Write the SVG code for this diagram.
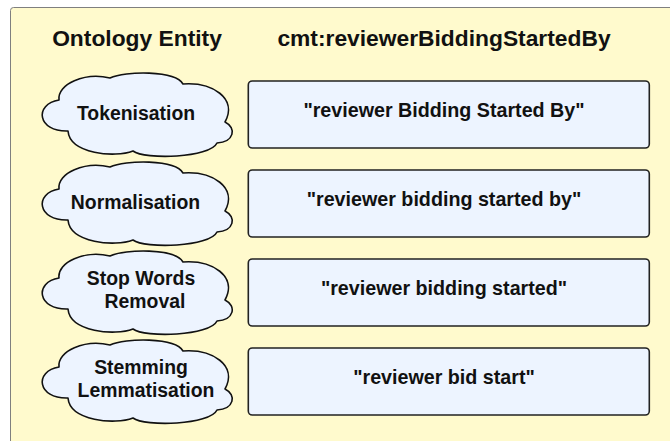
<svg xmlns="http://www.w3.org/2000/svg" width="670" height="441" viewBox="0 0 670 441">
<defs>
<style>
.bg{fill:#fffacd;stroke:#7f7f7f;stroke-width:1}
.box{fill:#edf4ff;stroke:#222;stroke-width:1.6}
.cloud{fill:#edf4ff;stroke:#111;stroke-width:1.6;stroke-linejoin:round}
text{font-family:"Liberation Sans",Arial,sans-serif;font-weight:bold;fill:#111;text-anchor:middle}
.h{font-size:22.8px}
.c{font-size:19.4px}
.b{font-size:19.7px}
</style>
<path id="cl" d="M19,26 C17,10 45,-2 70,4 C85,-3 135,-4 143,10 C172,8 198,24 185,48 C197,54 194,68 177,69 C170,84 105,86 93,77 C75,84 30,80 28,57 C-3,58 -6,30 19,26 Z"/>
</defs>
<rect class="bg" x="10.5" y="7.5" width="680" height="460" rx="3"/>
<g id="headers">
<text class="h" x="137" y="46">Ontology Entity</text>
<text class="h" x="444" y="46">cmt:reviewerBiddingStartedBy</text>
</g>
<g id="cloud1"><use href="#cl" class="cloud" transform="translate(40,74)"/><text class="c" x="136" y="119.5">Tokenisation</text></g>
<g id="cloud2"><use href="#cl" class="cloud" transform="translate(40,163)"/><text class="c" x="135.5" y="208.5">Normalisation</text></g>
<g id="cloud3"><use href="#cl" class="cloud" transform="translate(40,252)"/><text class="c" x="141" y="285">Stop Words</text><text class="c" x="145" y="308.3">Removal</text></g>
<g id="cloud4"><use href="#cl" class="cloud" transform="translate(40,341)"/><text class="c" x="141" y="374">Stemming</text><text class="c" x="146" y="397.3">Lemmatisation</text></g>
<g id="box1"><rect class="box" x="248.3" y="81" width="401" height="67" rx="4"/><text class="b" x="444" y="117.3">"reviewer Bidding Started By"</text></g>
<g id="box2"><rect class="box" x="248.3" y="170" width="401" height="67" rx="4"/><text class="b" x="444" y="206.3">"reviewer bidding started by"</text></g>
<g id="box3"><rect class="box" x="248.3" y="259" width="401" height="67" rx="4"/><text class="b" x="444" y="295.3">"reviewer bidding started"</text></g>
<g id="box4"><rect class="box" x="248.3" y="348" width="401" height="67" rx="4"/><text class="b" x="444" y="384.3">"reviewer bid start"</text></g>
<g id="connectors"/>
</svg>
